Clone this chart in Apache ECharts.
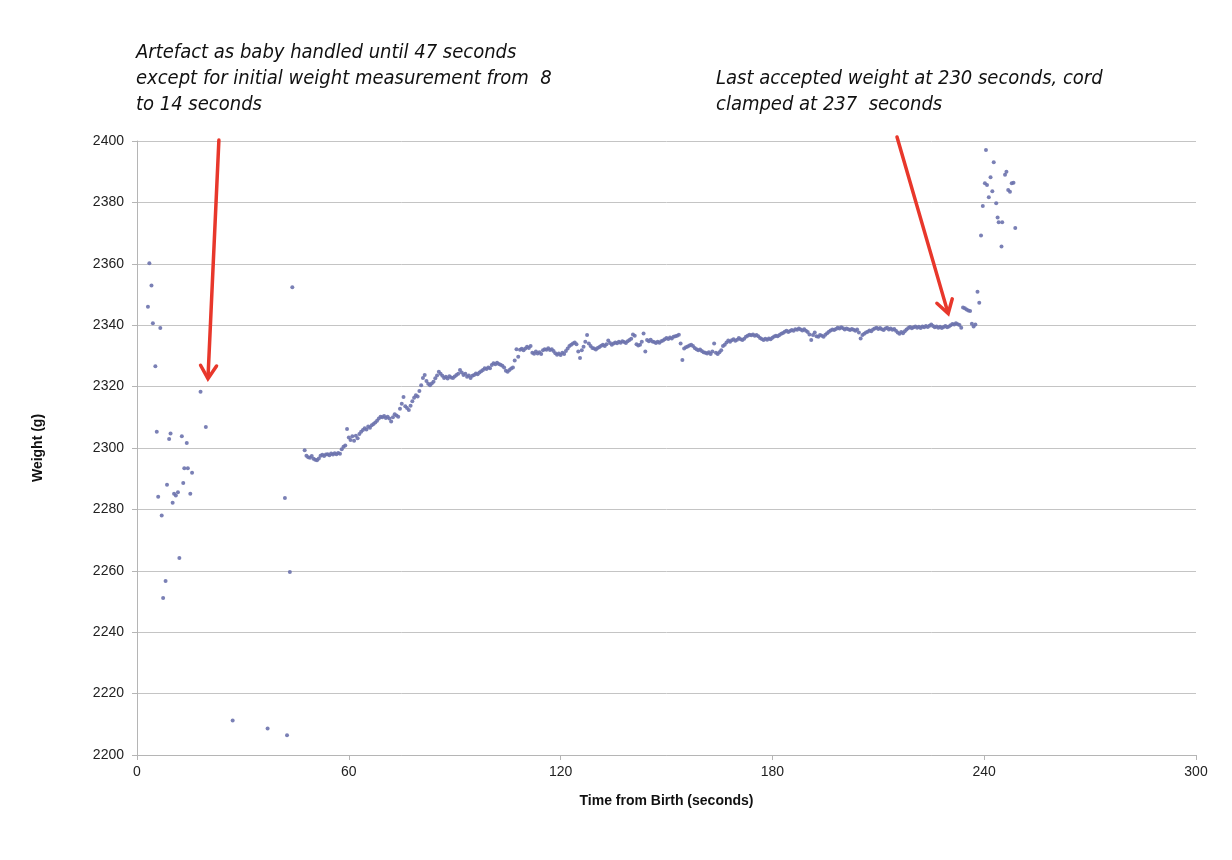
<!DOCTYPE html>
<html>
<head>
<meta charset="utf-8">
<script src="https://cdn.jsdelivr.net/npm/echarts@6/dist/echarts.min.js"></script>
<style>
html,body{margin:0;padding:0;background:#fff;}
#chart{width:1232px;height:860px;}
</style>
</head>
<body>
<div id="chart"></div>
<script>
// ---- Data (time s, weight g) ----
const earlyPoints = [[3.1,2346],[3.5,2360.2],[4.1,2352.9],[4.5,2340.6],[5.2,2326.6],[5.6,2305.3],[6.0,2284.1],[6.6,2339.1],[7.0,2278],[7.4,2251.1],[8.1,2256.7],[8.5,2288],[9.1,2302.9],[9.5,2304.7],[10.1,2282.2],[10.5,2285.1],[11.0,2284.5],[11.6,2285.6],[12.0,2264.2],[12.7,2303.8],[13.1,2288.6],[13.4,2293.4],[14.1,2301.6],[14.4,2293.4],[15.1,2285.1],[15.6,2291.9],[18.0,2318.3],[19.5,2306.8],[27.1,2211.2],[37.0,2208.6],[41.9,2283.7],[42.5,2206.4],[43.3,2259.6],[44.0,2352.4]];

const mainPoints = [
[47.5,2299.3],[48,2297.5],[48.5,2297],[49,2296.8],[49.5,2297.4],[50,2296.5],[50.5,2296.2],[51,2296],[51.5,2296.6],[52,2297.5],[52.5,2297.8],[53,2297.4],[53.5,2297.9],[54,2298],[54.5,2297.6],[55,2298.2],[55.5,2297.9],[56,2298.3],[56.5,2298],[57,2298.4],[57.5,2298.1],[58,2299.6],[58.5,2300.4],[59,2300.8],[59.5,2306.2],
[60,2303.4],[60.5,2302.6],[61,2303.8],[61.5,2302.4],[62,2304],[62.5,2303.2],[63,2304.6],[63.5,2305.3],[64,2305.9],[64.5,2306.4],[65,2306],[65.5,2307],[66,2306.6],[66.5,2307.4],[67,2307.8],[67.5,2308.3],[68,2308.9],[68.5,2309.6],[69,2310.2],[69.5,2310],
[70,2310.4],[70.5,2309.8],[71,2310.2],[71.5,2309.6],[72,2308.6],[72.5,2310],[73,2311],[73.5,2310.6],[74,2310.2],[74.5,2312.8],[75,2314.4],[75.5,2316.6],[76,2313.6],[76.5,2313],[77,2312.4],[77.5,2313.8],[78,2315.2],[78.5,2316.4],[79,2317.2],[79.5,2316.8],
[80,2318.6],[80.5,2320.4],[81,2322.8],[81.5,2323.8],[82,2321.8],[82.5,2320.9],[83,2320.4],[83.5,2321],[84,2321.6],[84.5,2322.7],[85,2323.6],[85.5,2324.8],[86,2324.2],[86.5,2323.5],[87,2322.8],[87.5,2323.2],[88,2322.6],[88.5,2323.4],[89,2323],[89.5,2322.8],
[90,2323.3],[90.5,2323.8],[91,2324.2],[91.5,2325.4],[92,2324.6],[92.5,2323.8],[93,2324.2],[93.5,2323.2],[94,2323.6],[94.5,2322.8],[95,2323.5],[95.5,2323.8],[96,2324.3],[96.5,2324],[97,2324.6],[97.5,2325],[98,2325.4],[98.5,2326],[99,2325.7],[99.5,2326.2],
[100,2326],[100.5,2327],[101,2327.6],[101.5,2327.3],[102,2327.8],[102.5,2327.4],[103,2327.1],[103.5,2326.8],[104,2326.2],[104.5,2325.2],[105,2324.8],[105.5,2325.4],[106,2325.9],[106.5,2326.2],[107,2328.5],[107.5,2332.2],[108,2329.7],[108.5,2332],[109,2332.3],[109.5,2331.8],
[110,2332.4],[110.5,2333],[111,2332.6],[111.5,2333.2],[112,2331],[112.5,2330.7],[113,2331.4],[113.5,2330.8],[114,2331.2],[114.5,2330.6],[115,2331.8],[115.5,2332.2],[116,2332],[116.5,2332.5],[117,2331.9],[117.5,2332.2],[118,2331.6],[118.5,2330.9],[119,2330.4],[119.5,2330.8],
[120,2330.3],[120.5,2331],[121,2330.6],[121.5,2331.6],[122,2332.4],[122.5,2333.2],[123,2333.6],[123.5,2334],[124,2334.4],[124.5,2333.8],[125,2331.4],[125.5,2329.3],[126,2331.8],[126.5,2333],[127,2334.6],[127.5,2336.8],[128,2334],[128.5,2333.2],[129,2332.6],[129.5,2332.4],
[130,2332.1],[130.5,2332.6],[131,2332.9],[131.5,2333.3],[132,2333.6],[132.5,2333.2],[133,2333.8],[133.5,2335],[134,2334.2],[134.5,2333.6],[135,2334],[135.5,2334.4],[136,2334.1],[136.5,2334.6],[137,2334.3],[137.5,2334.8],[138,2334.5],[138.5,2334.2],[139,2334.8],[139.5,2335.2],
[140,2335.6],[140.5,2337],[141,2336.6],[141.5,2333.8],[142,2333.4],[142.5,2333.6],[143,2334.6],[143.5,2337.3],[144,2331.4],[144.5,2335.2],[145,2334.8],[145.5,2335.3],[146,2334.7],[146.5,2334.5],[147,2334.2],[147.5,2334.6],[148,2334.3],[148.5,2334.8],[149,2335],[149.5,2335.4],
[150,2335.8],[150.5,2335.5],[151,2336],[151.5,2335.7],[152,2336.2],[152.5,2336.4],[153,2336.6],[153.5,2336.9],[154,2334],[154.5,2328.7],[155,2332.4],[155.5,2332.8],[156,2333.1],[156.5,2333.4],[157,2333.6],[157.5,2333.2],[158,2332.6],[158.5,2332.2],[159,2331.8],[159.5,2332.1],
[160,2331.6],[160.5,2331.2],[161,2331],[161.5,2330.8],[162,2331.2],[162.5,2330.6],[163,2331.4],[163.5,2334],[164,2331],[164.5,2330.6],[165,2331.2],[165.5,2331.8],[166,2333.2],[166.5,2333.6],[167,2334.4],[167.5,2335],[168,2334.6],[168.5,2335.1],[169,2335.4],[169.5,2334.9],
[170,2335.3],[170.5,2335.8],[171,2335.4],[171.5,2335.2],[172,2335.6],[172.5,2336.2],[173,2336.6],[173.5,2336.9],[174,2336.7],[174.5,2337],[175,2336.6],[175.5,2336.8],[176,2336.4],[176.5,2335.8],[177,2335.5],[177.5,2335.2],[178,2335.6],[178.5,2335.3],[179,2335.7],[179.5,2335.4],
[180,2335.9],[180.5,2336.3],[181,2336.6],[181.5,2336.4],[182,2336.8],[182.5,2337.2],[183,2337.5],[183.5,2337.9],[184,2338.2],[184.5,2337.8],[185,2338.1],[185.5,2338.4],[186,2338.2],[186.5,2338.7],[187,2338.5],[187.5,2338.9],[188,2338.6],[188.5,2338.3],[189,2338.7],[189.5,2338.2],
[190,2337.8],[190.5,2337],[191,2335.2],[191.5,2336.8],[192,2337.6],[192.5,2336.4],[193,2336.2],[193.5,2336.8],[194,2336.6],[194.5,2336.2],[195,2336.9],[195.5,2337.4],[196,2337.9],[196.5,2338.3],[197,2338.6],[197.5,2338.4],[198,2338.8],[198.5,2339.2],[199,2338.9],[199.5,2339.3],
[200,2339],[200.5,2338.6],[201,2338.9],[201.5,2338.7],[202,2338.4],[202.5,2338.8],[203,2338.5],[203.5,2338.2],[204,2338.6],[204.5,2337.6],[205,2335.7],[205.5,2336.8],[206,2337.2],[206.5,2337.6],[207,2337.9],[207.5,2338.3],[208,2338],[208.5,2338.6],[209,2338.9],[209.5,2339.2],
[210,2338.8],[210.5,2339.1],[211,2338.7],[211.5,2338.4],[212,2338.9],[212.5,2339.2],[213,2338.6],[213.5,2338.9],[214,2338.5],[214.5,2338.8],[215,2338.2],[215.5,2337.6],[216,2337.2],[216.5,2337.8],[217,2337.4],[217.5,2338],[218,2338.6],[218.5,2339.1],[219,2339.4],[219.5,2339],
[220,2339.3],[220.5,2339.6],[221,2339.2],[221.5,2339.5],[222,2339.1],[222.5,2339.6],[223,2339.3],[223.5,2339.7],[224,2339.4],[224.5,2339.8],[225,2340.2],[225.5,2339.7],[226,2339.3],[226.5,2339.6],[227,2339.2],[227.5,2339.5],[228,2339.1],[228.5,2339.4],[229,2339.7],[229.5,2339.3],
[230,2339.6],[230.5,2340],[231,2340.4],[231.5,2340.2],[232,2340.6],[232.5,2340.3],[233,2340.1],[233.5,2339.2],[234,2345.8],[234.5,2345.5],[235,2345.1],[235.5,2344.8],[236,2344.6],[236.5,2340.5],[237,2339.6],[237.5,2340.2]
];

const latePoints = [[238.1,2350.9],[238.6,2347.3],[239.1,2369.2],[239.6,2378.8],[240.2,2386.2],[240.5,2397.1],[240.8,2385.7],[241.3,2381.7],[241.8,2388.2],[242.3,2383.6],[242.7,2393.1],[243.4,2379.7],[243.8,2375.1],[244.1,2373.5],[244.9,2365.6],[245.1,2373.5],[245.9,2389.0],[246.3,2390],[246.8,2384],[247.3,2383.5],[247.8,2386.2],[248.3,2386.4],[248.8,2371.7]];

// annotation arrows (data coordinates: start, tip)
const arrow1 = [[23.2, 2400.3], [20.1, 2322.6]];
const arrow2 = [[215.3, 2401.3], [229.8, 2343.8]];

const xTicks = {min: 0, max: 300, interval: 60};
const yTicks = {min: 2200, max: 2400, interval: 20};

const note1 = 'Artefact as baby handled until 47 seconds\nexcept for initial weight measurement from  8\nto 14 seconds';
const note2 = 'Last accepted weight at 230 seconds, cord\nclamped at 237  seconds';

// ---- Chart ----
const chart = echarts.init(document.getElementById('chart'), null, {renderer: 'canvas'});
const labelFont = "'Liberation Sans', Arial, sans-serif";
const noteFont = "'DejaVu Sans Condensed', 'Liberation Sans Narrow', 'Open Sans', sans-serif";

const option = {
  animation: false,
  backgroundColor: '#ffffff',
  grid: {left: 137, right: 36, top: 141, bottom: 105, containLabel: false},
  xAxis: {
    type: 'value', min: xTicks.min, max: xTicks.max, interval: xTicks.interval,
    name: 'Time from Birth (seconds)', nameLocation: 'middle', nameGap: 39,
    nameTextStyle: {fontFamily: labelFont, fontSize: 14, fontWeight: 'bold', color: '#111'},
    axisLine: {show: true, lineStyle: {color: '#b5b5b5', width: 1}},
    axisTick: {show: true, length: 5, lineStyle: {color: '#b5b5b5'}},
    axisLabel: {fontFamily: labelFont, fontSize: 14, color: '#222', margin: 10},
    splitLine: {show: false}
  },
  yAxis: {
    type: 'value', min: yTicks.min, max: yTicks.max, interval: yTicks.interval,
    name: 'Weight (g)', nameLocation: 'middle', nameGap: 92, nameRotate: 90,
    nameTextStyle: {fontFamily: labelFont, fontSize: 14, fontWeight: 'bold', color: '#111'},
    axisLine: {show: true, lineStyle: {color: '#b5b5b5', width: 1}},
    axisTick: {show: true, length: 5, lineStyle: {color: '#b5b5b5'}},
    axisLabel: {fontFamily: labelFont, fontSize: 14, color: '#222', margin: 13, formatter: function (v) { return String(v); }},
    splitLine: {show: true, lineStyle: {color: '#c4c4c4', width: 1}}
  },
  series: [{
    type: 'scatter',
    data: earlyPoints.concat(mainPoints, latePoints),
    symbol: 'circle',
    symbolSize: 4,
    itemStyle: {color: '#6c72ad', opacity: 0.9},
    clip: false
  }],
  graphic: [
    {type: 'text', left: 136, top: 40, style: {text: note1, font: 'italic 20px ' + noteFont, fill: '#111', lineHeight: 26}},
    {type: 'text', left: 716, top: 66, style: {text: note2, font: 'italic 20px ' + noteFont, fill: '#111', lineHeight: 26}}
  ]
};
chart.setOption(option);

// arrows, positioned through the chart's own coordinate conversion
function arrowGraphics(arrow) {
  const a = chart.convertToPixel({gridIndex: 0}, arrow[0]);
  const b = chart.convertToPixel({gridIndex: 0}, arrow[1]);
  const dx = b[0] - a[0], dy = b[1] - a[1];
  const len = Math.sqrt(dx * dx + dy * dy);
  const ux = dx / len, uy = dy / len;
  const headLen = 13, headHalf = 8;
  const bx = b[0] - ux * headLen, by = b[1] - uy * headLen;
  const px = -uy, py = ux;
  const stroke = {stroke: '#e8372b', lineWidth: 3.5, lineCap: 'round', lineJoin: 'miter', fill: 'none'};
  return [
    {type: 'line', silent: true, z: 10, shape: {x1: a[0], y1: a[1], x2: b[0] - ux * 2, y2: b[1] - uy * 2}, style: stroke},
    {type: 'polyline', silent: true, z: 10, shape: {points: [[bx + px * headHalf, by + py * headHalf], [b[0], b[1]], [bx - px * headHalf, by - py * headHalf]]}, style: stroke}
  ];
}
chart.setOption({graphic: option.graphic.concat(arrowGraphics(arrow1), arrowGraphics(arrow2))});
</script>
</body>
</html>
